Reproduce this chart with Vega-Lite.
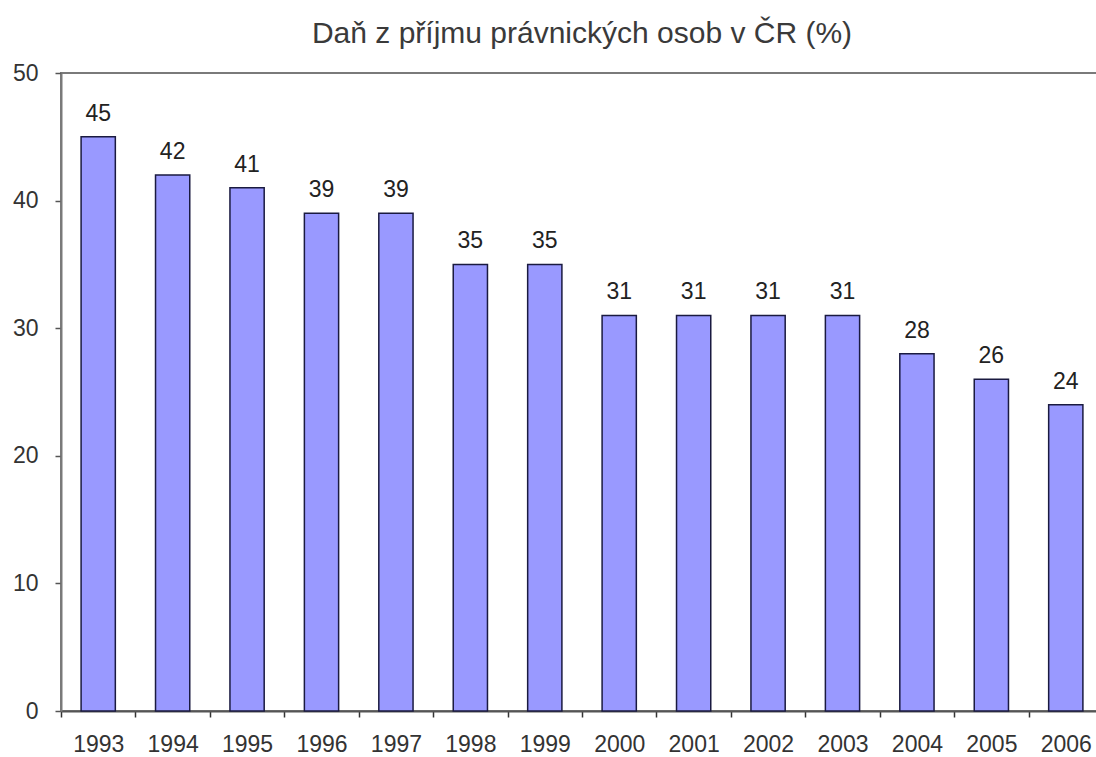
{
  "$schema": "https://vega.github.io/schema/vega-lite/v6.json",
  "autosize": "none",
  "padding": {"left": 61, "top": 73, "right": 0, "bottom": 46},
  "width": 1042,
  "height": 638,
  "background": "white",
  "title": {
    "text": "Daň z příjmu právnických osob v ČR (%)",
    "font": "Liberation Sans",
    "fontSize": 30,
    "fontWeight": "normal",
    "color": "#3a3a3a",
    "anchor": "middle",
    "offset": 13
  },
  "config": {
    "view": {"stroke": "#7a7a7a", "strokeWidth": 2},
    "axis": {"grid": false}
  },
  "data": {
    "values": [
      {"year": "1993", "value": 45},
      {"year": "1994", "value": 42},
      {"year": "1995", "value": 41},
      {"year": "1996", "value": 39},
      {"year": "1997", "value": 39},
      {"year": "1998", "value": 35},
      {"year": "1999", "value": 35},
      {"year": "2000", "value": 31},
      {"year": "2001", "value": 31},
      {"year": "2002", "value": 31},
      {"year": "2003", "value": 31},
      {"year": "2004", "value": 28},
      {"year": "2005", "value": 26},
      {"year": "2006", "value": 24}
    ]
  },
  "encoding": {
    "x": {
      "field": "year",
      "type": "ordinal",
      "scale": {"paddingInner": 0.54, "paddingOuter": 0.27},
      "axis": {
        "title": null,
        "labelAngle": 0,
        "labelFont": "Liberation Sans",
        "labelFontSize": 23,
        "labelColor": "#333333",
        "labelPadding": 16,
        "tickOffset": -37.2,
        "labelOffset": 37.2,
        "tickSize": 6,
        "tickColor": "#333333",
        "tickWidth": 1.5,
        "domainColor": "#555555",
        "domainWidth": 2
      }
    },
    "y": {
      "field": "value",
      "type": "quantitative",
      "scale": {"domain": [0, 50], "nice": false},
      "axis": {
        "title": null,
        "values": [0, 10, 20, 30, 40, 50],
        "labelFont": "Liberation Sans",
        "labelFontSize": 23,
        "labelColor": "#333333",
        "labelPadding": 17,
        "tickSize": 6,
        "tickColor": "#555555",
        "tickWidth": 1.5,
        "domainColor": "#7a7a7a",
        "domainWidth": 2
      }
    }
  },
  "layer": [
    {
      "mark": {"type": "bar", "fill": "#9999ff", "stroke": "#1a1a40", "strokeWidth": 1.5}
    },
    {
      "mark": {
        "type": "text",
        "baseline": "alphabetic",
        "dy": -16,
        "font": "Liberation Sans",
        "fontSize": 23,
        "color": "#222222"
      },
      "encoding": {"text": {"field": "value", "type": "quantitative"}}
    }
  ]
}
